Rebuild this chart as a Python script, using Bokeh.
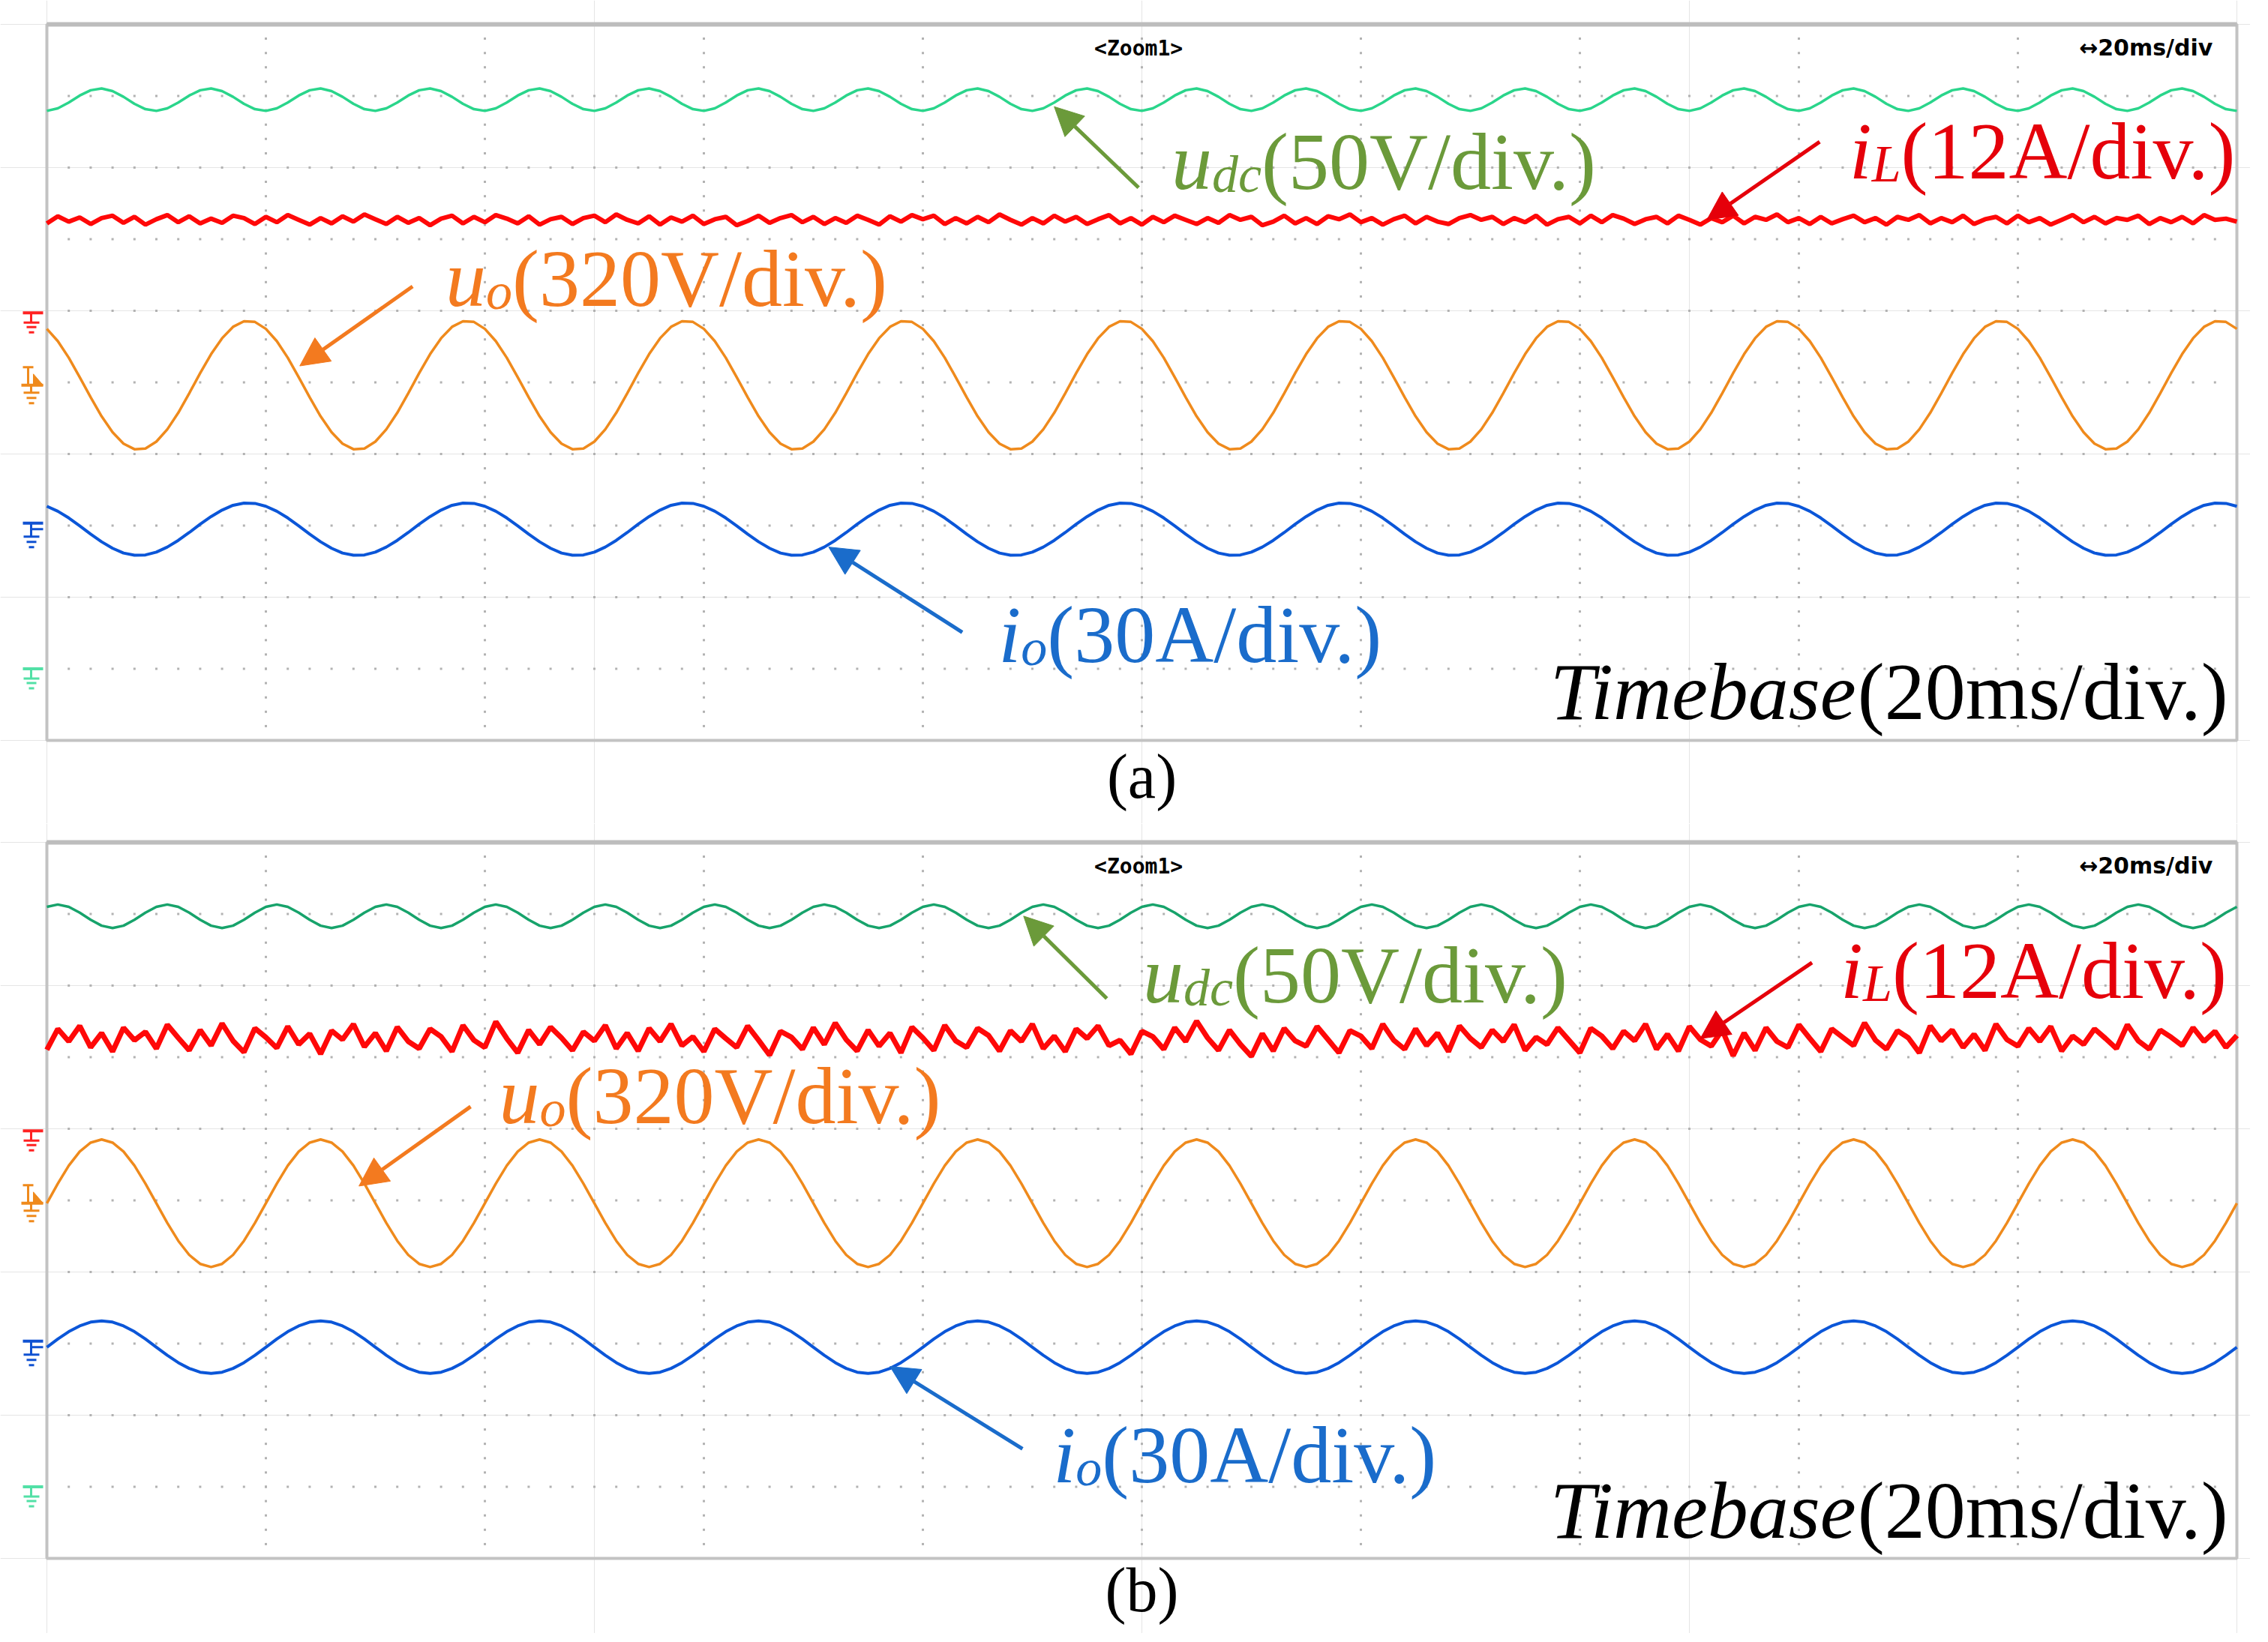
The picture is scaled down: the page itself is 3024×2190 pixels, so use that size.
import numpy as np
from bokeh.plotting import figure
from bokeh.layouts import column
from bokeh.models import Range1d, Arrow, NormalHead
from bokeh.core.properties import value
from bokeh.embed import file_html
from bokeh.resources import INLINE

# ---------------- data ----------------
t_ms = np.arange(0, 201)          # sample instants, ms (20 ms/div, 10 div)

# (a) output voltage u_o, V
uo_a = [252, 197, 123, 36, -54, -139, -210, -261, -286, -283, -252, -197, -123, -36, 54, 139, 210, 261, 286, 283,
        252, 197, 123, 36, -54, -139, -210, -261, -286, -283, -252, -197, -123, -36, 54, 139, 210, 261, 286, 283,
        252, 197, 123, 36, -54, -139, -210, -261, -286, -283, -252, -197, -123, -36, 54, 139, 210, 261, 286, 283,
        252, 197, 123, 36, -54, -139, -210, -261, -286, -283, -252, -197, -123, -36, 54, 139, 210, 261, 286, 283,
        252, 197, 123, 36, -54, -139, -210, -261, -286, -283, -252, -197, -123, -36, 54, 139, 210, 261, 286, 283,
        252, 197, 123, 36, -54, -139, -210, -261, -286, -283, -252, -197, -123, -36, 54, 139, 210, 261, 286, 283,
        252, 197, 123, 36, -54, -139, -210, -261, -286, -283, -252, -197, -123, -36, 54, 139, 210, 261, 286, 283,
        252, 197, 123, 36, -54, -139, -210, -261, -286, -283, -252, -197, -123, -36, 54, 139, 210, 261, 286, 283,
        252, 197, 123, 36, -54, -139, -210, -261, -286, -283, -252, -197, -123, -36, 54, 139, 210, 261, 286, 283,
        252, 197, 123, 36, -54, -139, -210, -261, -286, -283, -252, -197, -123, -36, 54, 139, 210, 261, 286, 283,
        252]
# (b) output voltage u_o, V
uo_b = [0, 88, 168, 231, 271, 285, 271, 231, 168, 88, 0, -88, -168, -231, -271, -285, -271, -231, -168, -88,
        0, 88, 168, 231, 271, 285, 271, 231, 168, 88, 0, -88, -168, -231, -271, -285, -271, -231, -168, -88,
        0, 88, 168, 231, 271, 285, 271, 231, 168, 88, 0, -88, -168, -231, -271, -285, -271, -231, -168, -88,
        0, 88, 168, 231, 271, 285, 271, 231, 168, 88, 0, -88, -168, -231, -271, -285, -271, -231, -168, -88,
        0, 88, 168, 231, 271, 285, 271, 231, 168, 88, 0, -88, -168, -231, -271, -285, -271, -231, -168, -88,
        0, 88, 168, 231, 271, 285, 271, 231, 168, 88, 0, -88, -168, -231, -271, -285, -271, -231, -168, -88,
        0, 88, 168, 231, 271, 285, 271, 231, 168, 88, 0, -88, -168, -231, -271, -285, -271, -231, -168, -88,
        0, 88, 168, 231, 271, 285, 271, 231, 168, 88, 0, -88, -168, -231, -271, -285, -271, -231, -168, -88,
        0, 88, 168, 231, 271, 285, 271, 231, 168, 88, 0, -88, -168, -231, -271, -285, -271, -231, -168, -88,
        0, 88, 168, 231, 271, 285, 271, 231, 168, 88, 0, -88, -168, -231, -271, -285, -271, -231, -168, -88,
        0]
# (a) output current i_o, A
io_a = [9.6, 7.5, 4.7, 1.4, -2.1, -5.3, -8.0, -10.0, -10.9, -10.8, -9.6, -7.5, -4.7, -1.4, 2.1, 5.3, 8.0, 10.0, 10.9, 10.8,
        9.6, 7.5, 4.7, 1.4, -2.1, -5.3, -8.0, -10.0, -10.9, -10.8, -9.6, -7.5, -4.7, -1.4, 2.1, 5.3, 8.0, 10.0, 10.9, 10.8,
        9.6, 7.5, 4.7, 1.4, -2.1, -5.3, -8.0, -10.0, -10.9, -10.8, -9.6, -7.5, -4.7, -1.4, 2.1, 5.3, 8.0, 10.0, 10.9, 10.8,
        9.6, 7.5, 4.7, 1.4, -2.1, -5.3, -8.0, -10.0, -10.9, -10.8, -9.6, -7.5, -4.7, -1.4, 2.1, 5.3, 8.0, 10.0, 10.9, 10.8,
        9.6, 7.5, 4.7, 1.4, -2.1, -5.3, -8.0, -10.0, -10.9, -10.8, -9.6, -7.5, -4.7, -1.4, 2.1, 5.3, 8.0, 10.0, 10.9, 10.8,
        9.6, 7.5, 4.7, 1.4, -2.1, -5.3, -8.0, -10.0, -10.9, -10.8, -9.6, -7.5, -4.7, -1.4, 2.1, 5.3, 8.0, 10.0, 10.9, 10.8,
        9.6, 7.5, 4.7, 1.4, -2.1, -5.3, -8.0, -10.0, -10.9, -10.8, -9.6, -7.5, -4.7, -1.4, 2.1, 5.3, 8.0, 10.0, 10.9, 10.8,
        9.6, 7.5, 4.7, 1.4, -2.1, -5.3, -8.0, -10.0, -10.9, -10.8, -9.6, -7.5, -4.7, -1.4, 2.1, 5.3, 8.0, 10.0, 10.9, 10.8,
        9.6, 7.5, 4.7, 1.4, -2.1, -5.3, -8.0, -10.0, -10.9, -10.8, -9.6, -7.5, -4.7, -1.4, 2.1, 5.3, 8.0, 10.0, 10.9, 10.8,
        9.6, 7.5, 4.7, 1.4, -2.1, -5.3, -8.0, -10.0, -10.9, -10.8, -9.6, -7.5, -4.7, -1.4, 2.1, 5.3, 8.0, 10.0, 10.9, 10.8,
        9.6]
# (b) output current i_o, A
io_b = [0.0, 3.4, 6.5, 8.9, 10.5, 11.0, 10.5, 8.9, 6.5, 3.4, 0.0, -3.4, -6.5, -8.9, -10.5, -11.0, -10.5, -8.9, -6.5, -3.4,
        0.0, 3.4, 6.5, 8.9, 10.5, 11.0, 10.5, 8.9, 6.5, 3.4, 0.0, -3.4, -6.5, -8.9, -10.5, -11.0, -10.5, -8.9, -6.5, -3.4,
        0.0, 3.4, 6.5, 8.9, 10.5, 11.0, 10.5, 8.9, 6.5, 3.4, 0.0, -3.4, -6.5, -8.9, -10.5, -11.0, -10.5, -8.9, -6.5, -3.4,
        0.0, 3.4, 6.5, 8.9, 10.5, 11.0, 10.5, 8.9, 6.5, 3.4, 0.0, -3.4, -6.5, -8.9, -10.5, -11.0, -10.5, -8.9, -6.5, -3.4,
        0.0, 3.4, 6.5, 8.9, 10.5, 11.0, 10.5, 8.9, 6.5, 3.4, 0.0, -3.4, -6.5, -8.9, -10.5, -11.0, -10.5, -8.9, -6.5, -3.4,
        0.0, 3.4, 6.5, 8.9, 10.5, 11.0, 10.5, 8.9, 6.5, 3.4, 0.0, -3.4, -6.5, -8.9, -10.5, -11.0, -10.5, -8.9, -6.5, -3.4,
        0.0, 3.4, 6.5, 8.9, 10.5, 11.0, 10.5, 8.9, 6.5, 3.4, 0.0, -3.4, -6.5, -8.9, -10.5, -11.0, -10.5, -8.9, -6.5, -3.4,
        0.0, 3.4, 6.5, 8.9, 10.5, 11.0, 10.5, 8.9, 6.5, 3.4, 0.0, -3.4, -6.5, -8.9, -10.5, -11.0, -10.5, -8.9, -6.5, -3.4,
        0.0, 3.4, 6.5, 8.9, 10.5, 11.0, 10.5, 8.9, 6.5, 3.4, 0.0, -3.4, -6.5, -8.9, -10.5, -11.0, -10.5, -8.9, -6.5, -3.4,
        0.0, 3.4, 6.5, 8.9, 10.5, 11.0, 10.5, 8.9, 6.5, 3.4, 0.0, -3.4, -6.5, -8.9, -10.5, -11.0, -10.5, -8.9, -6.5, -3.4,
        0.0]
# (a) dc-link voltage u_dc, V (100 Hz ripple)
udc_a = [389.6, 391.4, 395.4, 400.3, 404.0, 405.2, 403.4, 399.4, 394.5, 390.8, 389.6, 391.4, 395.4, 400.3, 404.0, 405.2, 403.4, 399.4, 394.5, 390.8,
         389.6, 391.4, 395.4, 400.3, 404.0, 405.2, 403.4, 399.4, 394.5, 390.8, 389.6, 391.4, 395.4, 400.3, 404.0, 405.2, 403.4, 399.4, 394.5, 390.8,
         389.6, 391.4, 395.4, 400.3, 404.0, 405.2, 403.4, 399.4, 394.5, 390.8, 389.6, 391.4, 395.4, 400.3, 404.0, 405.2, 403.4, 399.4, 394.5, 390.8,
         389.6, 391.4, 395.4, 400.3, 404.0, 405.2, 403.4, 399.4, 394.5, 390.8, 389.6, 391.4, 395.4, 400.3, 404.0, 405.2, 403.4, 399.4, 394.5, 390.8,
         389.6, 391.4, 395.4, 400.3, 404.0, 405.2, 403.4, 399.4, 394.5, 390.8, 389.6, 391.4, 395.4, 400.3, 404.0, 405.2, 403.4, 399.4, 394.5, 390.8,
         389.6, 391.4, 395.4, 400.3, 404.0, 405.2, 403.4, 399.4, 394.5, 390.8, 389.6, 391.4, 395.4, 400.3, 404.0, 405.2, 403.4, 399.4, 394.5, 390.8,
         389.6, 391.4, 395.4, 400.3, 404.0, 405.2, 403.4, 399.4, 394.5, 390.8, 389.6, 391.4, 395.4, 400.3, 404.0, 405.2, 403.4, 399.4, 394.5, 390.8,
         389.6, 391.4, 395.4, 400.3, 404.0, 405.2, 403.4, 399.4, 394.5, 390.8, 389.6, 391.4, 395.4, 400.3, 404.0, 405.2, 403.4, 399.4, 394.5, 390.8,
         389.6, 391.4, 395.4, 400.3, 404.0, 405.2, 403.4, 399.4, 394.5, 390.8, 389.6, 391.4, 395.4, 400.3, 404.0, 405.2, 403.4, 399.4, 394.5, 390.8,
         389.6, 391.4, 395.4, 400.3, 404.0, 405.2, 403.4, 399.4, 394.5, 390.8, 389.6, 391.4, 395.4, 400.3, 404.0, 405.2, 403.4, 399.4, 394.5, 390.8,
         389.6]
# (b) dc-link voltage u_dc, V
udc_b = [405.0, 406.6, 405.0, 400.9, 395.9, 391.8, 390.2, 391.8, 395.9, 400.9, 405.0, 406.6, 405.0, 400.9, 395.9, 391.8, 390.2, 391.8, 395.9, 400.9,
         405.0, 406.6, 405.0, 400.9, 395.9, 391.8, 390.2, 391.8, 395.9, 400.9, 405.0, 406.6, 405.0, 400.9, 395.9, 391.8, 390.2, 391.8, 395.9, 400.9,
         405.0, 406.6, 405.0, 400.9, 395.9, 391.8, 390.2, 391.8, 395.9, 400.9, 405.0, 406.6, 405.0, 400.9, 395.9, 391.8, 390.2, 391.8, 395.9, 400.9,
         405.0, 406.6, 405.0, 400.9, 395.9, 391.8, 390.2, 391.8, 395.9, 400.9, 405.0, 406.6, 405.0, 400.9, 395.9, 391.8, 390.2, 391.8, 395.9, 400.9,
         405.0, 406.6, 405.0, 400.9, 395.9, 391.8, 390.2, 391.8, 395.9, 400.9, 405.0, 406.6, 405.0, 400.9, 395.9, 391.8, 390.2, 391.8, 395.9, 400.9,
         405.0, 406.6, 405.0, 400.9, 395.9, 391.8, 390.2, 391.8, 395.9, 400.9, 405.0, 406.6, 405.0, 400.9, 395.9, 391.8, 390.2, 391.8, 395.9, 400.9,
         405.0, 406.6, 405.0, 400.9, 395.9, 391.8, 390.2, 391.8, 395.9, 400.9, 405.0, 406.6, 405.0, 400.9, 395.9, 391.8, 390.2, 391.8, 395.9, 400.9,
         405.0, 406.6, 405.0, 400.9, 395.9, 391.8, 390.2, 391.8, 395.9, 400.9, 405.0, 406.6, 405.0, 400.9, 395.9, 391.8, 390.2, 391.8, 395.9, 400.9,
         405.0, 406.6, 405.0, 400.9, 395.9, 391.8, 390.2, 391.8, 395.9, 400.9, 405.0, 406.6, 405.0, 400.9, 395.9, 391.8, 390.2, 391.8, 395.9, 400.9,
         405.0, 406.6, 405.0, 400.9, 395.9, 391.8, 390.2, 391.8, 395.9, 400.9, 405.0, 406.6, 405.0, 400.9, 395.9, 391.8, 390.2, 391.8, 395.9, 400.9,
         405.0]
# (a) inductor current i_L, A
iL_a = [15.0, 16.2, 15.3, 16.0, 14.9, 15.9, 16.3, 15.1, 16.1, 14.8, 15.7, 16.4, 15.2, 16.2, 15.0, 15.8, 15.1, 16.3, 15.9, 14.9,
        16.1, 15.2, 16.4, 15.6, 14.8, 15.9, 15.0, 16.2, 15.3, 16.5, 15.7, 14.9, 16.1, 15.1, 15.9, 14.7, 15.8, 16.3, 15.0, 16.1,
        15.2, 16.4, 15.8, 15.0, 16.2, 14.8, 15.7, 16.1, 14.9, 15.9, 16.3, 15.2, 16.5, 15.6, 15.0, 16.2, 14.8, 16.0, 15.3, 16.3,
        14.9, 15.7, 16.1, 14.7, 15.4, 16.3, 15.1, 15.9, 16.4, 15.2, 16.1, 14.9, 15.9, 15.1, 16.3, 15.6, 14.8, 16.2, 15.3, 16.4,
        15.7, 16.3, 14.9, 15.9, 15.0, 16.1, 15.2, 16.5, 15.6, 14.8, 15.9, 15.0, 16.3, 15.3, 16.1, 14.9, 15.7, 16.4, 15.0, 15.9,
        14.8, 16.1, 15.2, 16.3, 15.6, 14.9, 15.9, 15.1, 16.4, 15.6, 16.1, 14.7, 15.3, 16.3, 15.0, 15.9, 14.9, 16.2, 15.7, 16.5,
        15.2, 15.9, 14.8, 15.7, 16.3, 15.0, 16.1, 15.3, 14.9, 15.9, 16.4, 15.6, 16.1, 14.9, 15.9, 15.2, 16.3, 14.8, 15.7, 16.1,
        15.0, 16.3, 15.2, 16.4, 15.8, 14.9, 15.7, 16.1, 15.0, 16.3, 15.6, 14.8, 15.9, 15.2, 16.3, 15.0, 16.1, 15.6, 16.5, 15.2,
        15.9, 14.9, 16.1, 15.0, 15.7, 16.3, 15.2, 15.9, 14.8, 16.1, 15.6, 16.4, 15.0, 15.9, 15.2, 16.3, 14.9, 15.7, 16.1, 15.0,
        16.3, 15.2, 15.9, 14.8, 15.6, 16.4, 15.2, 16.1, 15.0, 15.9, 15.6, 16.3, 14.9, 15.9, 15.2, 16.1, 15.0, 16.4, 15.6, 15.8,
        15.3]
# (b) inductor current i_L, A
iL_b = [13.6, 17.1, 15.0, 17.6, 14.0, 16.4, 13.3, 17.3, 15.2, 16.6, 13.8, 17.8, 15.6, 13.5, 16.9, 14.3, 18.0, 15.1, 13.2, 17.2,
        15.7, 13.9, 17.5, 14.5, 16.3, 12.9, 16.8, 15.3, 17.9, 14.1, 16.4, 13.4, 17.4, 15.0, 13.8, 17.1, 15.8, 13.3, 17.7, 15.2,
        14.0, 18.3, 15.5, 13.1, 16.9, 14.5, 17.4, 15.6, 13.5, 16.6, 15.1, 17.7, 13.8, 16.4, 13.4, 17.2, 15.0, 17.9, 14.3, 15.8,
        13.3, 17.1, 15.5, 14.0, 17.6, 15.2, 12.7, 16.7, 15.7, 13.7, 17.3, 14.5, 18.1, 15.3, 13.4, 16.9, 14.2, 16.4, 13.1, 17.4,
        15.6, 13.5, 17.7, 15.1, 14.0, 17.2, 16.0, 13.4, 16.8, 15.0, 17.9, 13.8, 15.9, 13.3, 17.1, 15.5, 17.6, 14.3, 15.2, 12.9,
        16.7, 15.8, 13.7, 17.3, 15.0, 18.4, 15.6, 13.5, 16.9, 14.5, 12.5, 16.3, 13.4, 17.2, 15.1, 14.2, 17.5, 15.3, 13.1, 16.8,
        15.9, 13.8, 17.9, 15.2, 13.7, 17.1, 14.3, 16.4, 13.3, 17.6, 15.5, 14.0, 16.9, 15.0, 17.8, 13.5, 15.7, 14.5, 17.3, 15.2,
        13.1, 17.2, 15.9, 13.8, 16.7, 15.1, 17.9, 13.7, 16.2, 13.4, 17.5, 15.3, 14.2, 16.9, 12.6, 16.4, 13.5, 17.3, 15.0, 14.0,
        17.8, 15.5, 13.3, 17.1, 15.7, 14.3, 18.1, 15.2, 13.7, 16.8, 15.6, 13.1, 17.6, 15.1, 16.9, 14.0, 16.2, 13.5, 17.9, 15.3,
        14.2, 17.2, 15.0, 17.5, 13.4, 15.9, 14.5, 17.1, 15.5, 13.8, 17.8, 15.1, 13.7, 16.9, 15.7, 14.3, 17.3, 15.0, 16.7, 14.0,
        16.0]

# channel settings: units per division and ground level (divisions above the bottom of the screen)
SCALE = {"udc": 50.0, "iL": 12.0, "uo": 320.0, "io": 30.0}
LEVEL = {"udc": 1.0, "iL": 5.97, "uo": 4.96, "io": 2.95}
LABELS = {"udc": ("u", "dc", "(50V/div.)"), "iL": ("i", "L", "(12A/div.)"),
          "uo": ("u", "o", "(320V/div.)"), "io": ("i", "o", "(30A/div.)")}

# ---------------- styling ----------------
SERIF = "Liberation Serif"
PXX, PXY = 14.6, 95.5          # px per ms, px per division
FIG_W = 3000
FRAME_LEFT = 62                # px from the page's left edge to the screen's left edge
EM = {"u": 0.5, "i": 0.278, "dc": 0.944, "L": 0.556, "o": 0.5}
MAIN_FS, SUB_FS = 108, 70
BASE_FIX = 0.34                # baseline correction (em) for the renderer's text placement
COL_TEXT = {"udc": "#6b9a3a", "iL": "#e5000a", "uo": "#f37a1f", "io": "#1a6ccb"}
COL_GND = {"udc": "#52e0a6", "iL": "#ff2222", "uo": "#ef8a1c", "io": "#1052d2"}
COL_RED, COL_ORANGE, COL_BLUE = "#ff0808", "#ef8a1c", "#0b56d8"


def gx(px):
    return (px - 62) / PXX


def txt(p, x, y, s, fs, color="black", font=SERIF, style="normal", align="left", dx=0, dy=0):
    p.text(x=[x], y=[y], text=[s], x_offset=dx, y_offset=dy - BASE_FIX * fs, text_font=value(font),
           text_font_size=f"{fs}px", text_font_style=style, text_color=color,
           text_align=align, text_baseline="alphabetic")


def ground_marker(p, key):
    L = LEVEL[key]
    c = COL_GND[key]
    if key == "io":
        segs = [(30, 8, 57, 8, 4), (41, 8, 41, -10, 3), (41, 0, 57, 0, 3),
                (31, -10, 52, -10, 3), (35, -17, 48, -17, 3), (38, -24, 45, -24, 3)]
    elif key == "uo":
        segs = [(30, 24, 44, 24, 3), (37, 24, 37, 0, 3), (28, 0, 57, 0, 4), (41, 0, 41, -10, 3),
                (31, -10, 52, -10, 3), (35, -17, 48, -17, 3), (38, -24, 45, -24, 3)]
        p.patch(x=[gx(44), gx(44), gx(57)], y=[L + 15 / PXY, L, L], fill_color=c, line_color=c)
    else:
        segs = [(30, 0, 57, 0, 4), (41, 0, 41, -13, 3), (31, -13, 52, -13, 3),
                (35, -19, 48, -19, 3), (38, -26, 45, -26, 3)]
    p.segment(x0=[gx(s[0]) for s in segs], y0=[L + s[1] / PXY for s in segs],
              x1=[gx(s[2]) for s in segs], y1=[L + s[3] / PXY for s in segs],
              line_width=[s[4] for s in segs], line_color=c)


def scope_label(p, key, x, y):
    main, sub, rest = LABELS[key]
    c = COL_TEXT[key]
    txt(p, x, y, main, MAIN_FS, c, style="italic")
    dx = EM[main] * MAIN_FS
    txt(p, x, y, sub, SUB_FS, c, style="italic", dx=dx, dy=17 + BASE_FIX * (SUB_FS - MAIN_FS))
    dx2 = dx + EM[sub] * SUB_FS
    txt(p, x, y, rest, MAIN_FS, c, dx=dx2)


def arrow(p, key, xs, ys, xe, ye):
    c = COL_TEXT[key]
    p.add_layout(Arrow(end=NormalHead(size=38, fill_color=c, line_color=c, line_width=1),
                       x_start=xs, y_start=ys, x_end=xe, y_end=ye, line_color=c, line_width=5))


def panel(height, bottom_px, udc, iL, uo, io, green_col, red_width, labels, arrows, tb_y, cap, cap_y):
    x0, x1 = -FRAME_LEFT / PXX, (FIG_W - FRAME_LEFT) / PXX
    y0, y1 = -bottom_px / PXY, (height - bottom_px) / PXY
    p = figure(width=FIG_W, height=height, x_range=Range1d(x0, x1), y_range=Range1d(y0, y1),
               toolbar_location=None, output_backend="svg", min_border=0,
               x_axis_location=None, y_axis_location=None, outline_line_color=None,
               background_fill_color="white", border_fill_color="white")
    p.extra_y_ranges = {k: Range1d((y0 - LEVEL[k]) * SCALE[k], (y1 - LEVEL[k]) * SCALE[k]) for k in SCALE}

    # graticule: dotted major lines
    vx, vy = np.meshgrid(np.arange(1, 10) * 20.0, np.arange(1, 50) * 0.2)
    hx, hy = np.meshgrid(np.arange(1, 100) * 2.0, np.arange(1, 10) * 1.0)
    p.scatter(np.concatenate([vx.ravel(), hx.ravel()]), np.concatenate([vy.ravel(), hy.ravel()]),
              marker="square", size=3, fill_color="#b2b2b2", line_color=None)
    # screen frame
    p.quad(left=[0], right=[200], bottom=[0], top=[10], fill_color=None, line_color="#c3c3c3", line_width=4)
    p.segment(x0=[0], y0=[10], x1=[200], y1=[10], line_color="#bdbdbd", line_width=6)

    # traces
    p.line(t_ms, iL, y_range_name="iL", line_color=COL_RED, line_width=red_width)
    p.line(t_ms, udc, y_range_name="udc", line_color=green_col, line_width=3.5)
    p.line(t_ms, uo, y_range_name="uo", line_color=COL_ORANGE, line_width=3.5)
    p.line(t_ms, io, y_range_name="io", line_color=COL_BLUE, line_width=4)

    for k in ("iL", "uo", "io", "udc"):
        ground_marker(p, k)

    # scope header texts
    txt(p, 99.7, 9.57, "<Zoom1>", 28, font="DejaVu Sans Mono", style="bold", align="center")
    txt(p, 197.8, 9.57, "\u219420ms/div", 30, font="DejaVu Sans", style="bold", align="right")

    for k, (xs, ys, xe, ye) in arrows.items():
        arrow(p, k, xs, ys, xe, ye)
    for k, (x, y) in labels.items():
        scope_label(p, k, x, y)

    # time base annotation
    txt(p, 199.2, tb_y, "Timebase", MAIN_FS, style="italic", align="right", dx=-4.639 * MAIN_FS + 5)
    txt(p, 199.2, tb_y, "(20ms/div.)", MAIN_FS, align="right")
    # sub-figure caption
    txt(p, 100, cap_y, cap, 84, align="center")
    return p


labels_a = {"udc": (102.7, 7.70), "iL": (164.6, 7.85), "uo": (36.4, 6.07), "io": (86.9, 1.09)}
arrows_a = {"udc": (99.7, 7.72, 92.0, 8.85), "iL": (161.9, 8.36, 151.6, 7.27),
            "uo": (33.4, 6.34, 23.1, 5.23), "io": (83.6, 1.51, 71.4, 2.70)}
labels_b = {"udc": (100.1, 7.76), "iL": (163.8, 7.82), "uo": (41.3, 6.08), "io": (91.9, 1.06)}
arrows_b = {"udc": (96.8, 7.82, 89.2, 8.97), "iL": (161.2, 8.32, 151.0, 7.26),
            "uo": (38.7, 6.31, 28.5, 5.20), "io": (89.1, 1.53, 77.0, 2.68)}

pa = panel(1098, 111, udc_a, iL_a, uo_a, io_a, "#2ad58b", 6, labels_a, arrows_a, 0.30, "(a)", -0.80)
pb = panel(1080, 100, udc_b, iL_b, uo_b, io_b, "#17a36b", 7, labels_b, arrows_b, 0.29, "(b)", -0.74)

layout = column(pa, pb)
open("out.html", "w").write(file_html(layout, INLINE))
